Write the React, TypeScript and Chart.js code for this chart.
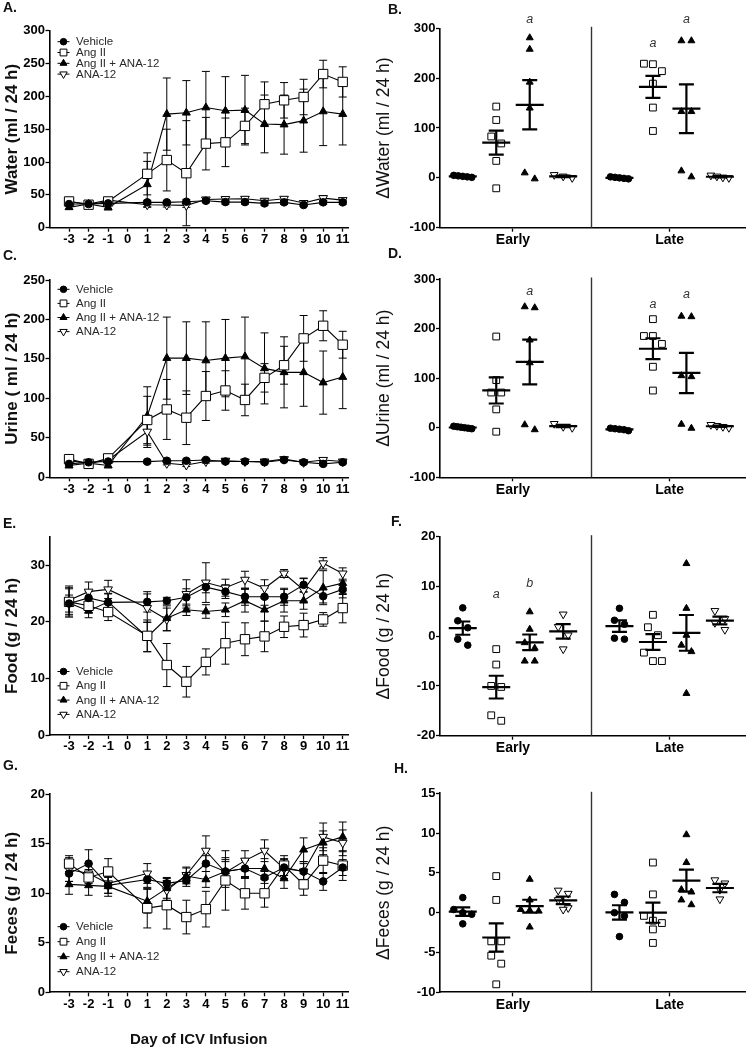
import React, { useEffect, useRef } from 'react';
import { Chart, registerables } from 'chart.js';

Chart.register(...registerables);

// ------------------------------------------------------------------ data
const GROUPS = ['Vehicle', 'Ang II', 'Ang II + ANA-12', 'ANA-12'];
const DAYS = [-3, -2, -1, 1, 2, 3, 4, 5, 6, 7, 8, 9, 10, 11];
const DAY_TICKS = [-3, -2, -1, 0, 1, 2, 3, 4, 5, 6, 7, 8, 9, 10, 11];
const PERIODS = ['Early', 'Late'];

// time courses (mean per day, groups in GROUPS order) and SEM
const WATER = [
  [36, 36, 37, 38.6, 38.6, 39.6, 41, 39, 39, 37, 38.6, 34.5, 38.6, 38.6],
  [40, 35, 40, 82, 103, 83, 128, 130, 155, 188, 194, 199, 234, 222],
  [31, 36, 31, 66, 173, 175, 183, 178, 179, 158, 157, 163, 177, 173],
  [40, 36, 42, 35, 34.5, 34, 43, 43.6, 44, 41, 44, 37.6, 45, 42],
];
const WATER_SEM = [
  [3, 2, 3, 3, 2, 3, 3, 3, 3, 3, 3, 2, 3, 3],
  [4, 3, 5, 32, 47, 80, 40, 37, 27, 34, 27, 27, 21, 23],
  [3, 3, 4, 35, 55, 49, 55, 52, 53, 44, 45, 48, 52, 47],
  [3, 2, 3, 3, 3, 3, 3, 3, 3, 3, 3, 3, 4, 3],
];
const URINE = [
  [17, 19, 20, 19.8, 21, 21, 22, 20, 20, 19, 22, 19, 17, 19],
  [23, 17, 24, 72.6, 86, 75.5, 103, 110, 98, 126, 142, 176, 192, 168],
  [15, 18, 15, 77.7, 151, 151, 148, 151, 153, 138, 133, 133, 120, 127],
  [21, 18, 22, 57.8, 17.7, 15.6, 20, 21, 20, 20, 23, 19, 22, 20],
];
const URINE_SEM = [
  [2, 2, 2, 2, 2, 2, 2, 2, 2, 2, 2, 2, 2, 2],
  [4, 3, 4, 30, 38, 34, 31, 25, 20, 18, 24, 29, 19, 17],
  [3, 3, 3, 37, 52, 46, 49, 49, 50, 45, 45, 43, 40, 40],
  [3, 2, 3, 20, 2, 2, 2, 2, 2, 2, 2, 2, 2, 2],
];
const FOOD = [
  [23.2, 24.2, 23.4, 23.5, 23.7, 24.3, 26.1, 25.3, 24.4, 24.4, 24.4, 26.5, 24.5, 25.7],
  [23.5, 22.8, 21.7, 17.5, 12.35, 9.4, 12.9, 16.2, 16.9, 17.4, 19.1, 19.4, 20.4, 22.4],
  [23.3, 21.9, 23.5, 17.3, 20.6, 22.1, 21.8, 22.1, 23.7, 22.1, 23.7, 23.7, 26, 26.8],
  [23.8, 25.3, 25.7, 22.4, 20.4, 24.9, 26.9, 26, 27.4, 25.9, 28.5, 25.6, 30.3, 28.5],
];
const FOOD_SEM = [
  [1.5, 1.2, 1.5, 1.8, 0.6, 1.5, 1.0, 1.2, 1.5, 1.5, 1.5, 1.2, 1.2, 1.5],
  [2.5, 1.2, 1.5, 2.8, 3.8, 2.7, 2.3, 3.7, 2.9, 2.7, 1.9, 2.1, 1.2, 2.6],
  [2.5, 1.2, 1.5, 2.6, 2.2, 1.0, 1.2, 1.2, 2.0, 2.0, 2.0, 1.5, 3.0, 2.0],
  [2.5, 1.7, 1.6, 2.5, 2.0, 2.5, 3.5, 1.5, 1.5, 1.5, 0.7, 2.0, 1.0, 1.0],
];
const FECES = [
  [12.0, 13.0, 10.8, 11.4, 11.0, 11.3, 13.0, 12.2, 12.5, 11.6, 12.6, 12.2, 11.2, 12.6],
  [13.0, 11.6, 12.2, 8.5, 8.8, 7.6, 8.4, 11.3, 10.0, 10.0, 12.8, 10.9, 13.3, 12.8],
  [10.9, 10.8, 10.7, 9.2, 10.5, 11.75, 11.4, 12.2, 12.5, 12.5, 11.5, 14.4, 15.1, 15.7],
  [12.4, 12.0, 11.0, 12.0, 10.3, 11.85, 14.3, 12.1, 13.3, 14.3, 12.5, 12.2, 15.7, 15.1],
];
const FECES_SEM = [
  [0.8, 1.4, 0.8, 0.8, 0.6, 0.6, 0.8, 1.0, 0.8, 0.6, 0.8, 0.8, 0.9, 0.8],
  [0.8, 0.8, 1.3, 2.0, 2.4, 1.7, 1.8, 3.0, 1.6, 1.4, 1.0, 1.1, 1.3, 1.5],
  [1.0, 1.0, 1.0, 1.2, 1.0, 0.8, 0.8, 1.2, 1.0, 1.0, 1.0, 1.2, 1.2, 1.5],
  [1.2, 1.0, 1.0, 1.0, 1.0, 0.8, 1.5, 1.5, 1.0, 1.1, 1.0, 1.0, 1.4, 1.3],
];

// individual change values (per animal), groups in GROUPS order
const DWATER_EARLY = [[5, 3, 2, 4, 1], [143, 116, 83, 69, 34, -21], [281, 258, 192, 140, -2, 10], [0, 6, 3]];
const DWATER_LATE = [[-2, 0, 1, -1, 2], [228, 229, 214, 189, 141, 94], [275, 275, 133, 133, 2, 14], [1, 5, 3, 0]];
const DURINE_EARLY = [[2, -1, 0, 1, -2, 3], [184, 96, 71, 71, 37, -8], [244, 242, 177, 131, -4, 6], [0, 8, 2]];
const DURINE_LATE = [[-3, -6, -1, -4, -2], [219, 185, 185, 169, 123, 75], [224, 225, 105, 103, -1, 7], [0, 4, 6, 2]];
const DFOOD_EARLY = [[5.7, 3.1, 1.7, -0.6, -1.8], [-2.6, -5.7, -10.2, -10, -17, -15.9], [4.9, 1.4, -1.3, -2.4, -5, -5], [4.4, 1.9, 0.2, -2.6]];
const DFOOD_LATE = [[5.6, 3.2, 2.4, -0.4, -0.6], [4.3, 1.8, 0.2, -3.3, -5, -5], [14.6, 5.6, 0.2, -1.8, -3.1, -11.5], [5.1, 3.5, 2.7, 1.3]];
const DFECES_EARLY = [[1.9, 0.4, 0, -0.2, -1.4], [4.6, 1.6, -3.6, -3.6, -5.4, -6.4, -9], [4.2, 1.6, 0.4, 0.3, 0.2, -1.8], [2.8, 2.4, 1.6, 0.6, 0.4]];
const DFECES_LATE = [[2.3, 1.3, 0, -0.4, -3], [6.3, 2.3, -0.4, -1.0, -1.3, -2.1, -3.8], [9.8, 6.3, 2.9, 2.6, 1.6, 1.0], [4.1, 3.7, 2.9, 1.7]];

// significance letters: [text, period index, group index, value level]
const DWATER_MARKS: [string, number, number, number][] = [['a', 0, 2, 317], ['a', 1, 1, 270], ['a', 1, 2, 317]];
const DURINE_MARKS: [string, number, number, number][] = [['a', 0, 2, 274], ['a', 1, 1, 248], ['a', 1, 2, 269]];
const DFOOD_MARKS: [string, number, number, number][] = [['a', 0, 1, 8.3], ['b', 0, 2, 10.6]];
const DFECES_MARKS: [string, number, number, number][] = [];

// tick labels
const WATER_TICKS = [0, 50, 100, 150, 200, 250, 300];
const URINE_TICKS = [0, 50, 100, 150, 200, 250];
const FOOD_TICKS = [0, 10, 20, 30];
const FECES_TICKS = [0, 5, 10, 15, 20];
const DWATER_TICKS = [-100, 0, 100, 200, 300];
const DURINE_TICKS = [-100, 0, 100, 200, 300];
const DFOOD_TICKS = [-20, -10, 0, 10, 20];
const DFECES_TICKS = [-10, -5, 0, 5, 10, 15];

// ------------------------------------------------------------------ styles / layout
const FONT = '"Liberation Sans", Arial, Helvetica, sans-serif';
const MARKERS = [
  { style: 'circle', rot: 0, fill: '#000', rL: 3.8, rR: 3.3, rLeg: 3.3 },
  { style: 'rect', rot: 0, fill: '#fff', rL: 6.6, rR: 4.8, rLeg: 4.8 },
  { style: 'triangle', rot: 0, fill: '#000', rL: 4.6, rR: 4.0, rLeg: 4.0 },
  { style: 'triangle', rot: 180, fill: '#fff', rL: 5.0, rR: 4.5, rLeg: 4.3 },
];
const DAY_MIN = -4;
const DAY_MAX = 11.27;
const SLOT_MIN = -0.68;
const SLOT_MAX = 8.43;
const LATE_OFFSET = 4.68;
const SPREAD_BIN = 8.5;
const SPREAD_STEP = 10;
const SPREAD_SPAN = 18;

type Box = { left: number; top: number; w: number; h: number };
type Area = { l: number; t: number; r: number; b: number };

function drawMarker(ctx: CanvasRenderingContext2D, gi: number, x: number, y: number, r: number) {
  const m = MARKERS[gi];
  ctx.beginPath();
  if (m.style === 'circle') {
    ctx.arc(x, y, r, 0, Math.PI * 2);
  } else if (m.style === 'rect') {
    const s = Math.SQRT1_2 * r;
    ctx.rect(x - s, y - s, 2 * s, 2 * s);
  } else {
    let rad = (m.rot * Math.PI) / 180;
    for (let k = 0; k < 3; k++) {
      const px = x + Math.sin(rad) * r;
      const py = y - Math.cos(rad) * r;
      if (k === 0) ctx.moveTo(px, py);
      else ctx.lineTo(px, py);
      rad += (2 * Math.PI) / 3;
    }
    ctx.closePath();
  }
  ctx.fillStyle = m.fill;
  ctx.fill();
  ctx.strokeStyle = '#000';
  ctx.lineWidth = 1;
  ctx.stroke();
}

function axisLook() {
  return {
    grid: { display: true, drawOnChartArea: false, drawTicks: true, tickLength: 4, tickWidth: 1.3, tickColor: '#000' },
    border: { display: true, color: '#000', width: 1.6 },
  };
}

function spreadOffsets(px: number[]): number[] {
  const idx = px.map((_, i) => i).sort((a, b) => px[b] - px[a]);
  const out = new Array(px.length).fill(0);
  let k = 0;
  while (k < idx.length) {
    const start = px[idx[k]];
    let j = k;
    while (j + 1 < idx.length && start - px[idx[j + 1]] < SPREAD_BIN) j++;
    const n = j - k + 1;
    if (n > 1) {
      const d = Math.min(SPREAD_STEP, SPREAD_SPAN / (n - 1));
      for (let m = 0; m < n; m++) out[idx[k + m]] = (m - (n - 1) / 2) * d;
    }
    k = j + 1;
  }
  return out;
}

function meanSem(v: number[]) {
  const n = v.length;
  const mean = v.reduce((a, b) => a + b, 0) / n;
  const sd = Math.sqrt(v.reduce((a, b) => a + (b - mean) * (b - mean), 0) / (n - 1));
  return { mean, sem: sd / Math.sqrt(n) };
}

// ------------------------------------------------------------------ line panels
type LinePanel = {
  box: Box; ca: Area; yMax: number; yTicks: number[]; title: string;
  series: number[][]; sem: number[][]; legend: { x: number; y: number; gap: number; tx: number };
  xTitle?: string;
};

function lineConfig(p: LinePanel): any {
  const { box, ca } = p;
  const datasets = GROUPS.map((g, gi) => ({
    label: g,
    data: DAYS.map((d, i) => ({ x: d, y: p.series[gi][i] })),
    errs: p.sem[gi],
    showLine: true,
    borderColor: '#000',
    borderWidth: 1.1,
    backgroundColor: MARKERS[gi].fill,
    pointStyle: MARKERS[gi].style,
    pointRotation: MARKERS[gi].rot,
    pointRadius: MARKERS[gi].rL,
    pointBackgroundColor: MARKERS[gi].fill,
    pointBorderColor: '#000',
    pointBorderWidth: 1,
    clip: false,
  }));
  const errPlugin = {
    id: 'errbars',
    beforeDatasetsDraw(chart: any) {
      const ctx = chart.ctx;
      const ys = chart.scales.y;
      ctx.save();
      ctx.strokeStyle = '#000';
      ctx.lineWidth = 1;
      chart.data.datasets.forEach((ds: any, di: number) => {
        const meta = chart.getDatasetMeta(di);
        meta.data.forEach((pt: any, i: number) => {
          const v = ds.data[i].y;
          const e = ds.errs[i];
          const x = pt.x;
          const y1 = ys.getPixelForValue(v + e);
          const y2 = ys.getPixelForValue(v - e);
          ctx.beginPath();
          ctx.moveTo(x, y1); ctx.lineTo(x, y2);
          ctx.moveTo(x - 4, y1); ctx.lineTo(x + 4, y1);
          ctx.moveTo(x - 4, y2); ctx.lineTo(x + 4, y2);
          ctx.stroke();
        });
      });
      ctx.restore();
    },
  };
  const legPlugin = {
    id: 'insideLegend',
    afterDraw(chart: any) {
      const ctx = chart.ctx;
      ctx.save();
      GROUPS.forEach((g, gi) => {
        const x = p.legend.x - box.left;
        const y = p.legend.y - box.top + gi * p.legend.gap;
        ctx.strokeStyle = '#000';
        ctx.lineWidth = 1;
        ctx.beginPath();
        ctx.moveTo(x - 6, y); ctx.lineTo(x + 6, y);
        ctx.stroke();
        drawMarker(ctx, gi, x, y, MARKERS[gi].rLeg);
        ctx.fillStyle = '#2a2a2a';
        ctx.font = `11.5px ${FONT}`;
        ctx.textAlign = 'left';
        ctx.textBaseline = 'middle';
        ctx.fillText(g, p.legend.tx - box.left, y + 0.5);
      });
      ctx.restore();
    },
  };
  return {
    type: 'scatter',
    data: { datasets },
    plugins: [errPlugin, legPlugin],
    options: {
      animation: false,
      responsive: false,
      devicePixelRatio: 1,
      events: [],
      layout: { autoPadding: false, padding: { left: 0, top: ca.t - box.top, right: box.left + box.w - ca.r, bottom: 0 } },
      plugins: { legend: { display: false }, tooltip: { enabled: false }, title: { display: false } },
      scales: {
        x: {
          type: 'linear', min: DAY_MIN, max: DAY_MAX,
          ...axisLook(),
          afterBuildTicks: (s: any) => { s.ticks = DAY_TICKS.map((v) => ({ value: v })); },
          afterFit: (s: any) => { s.height = box.top + box.h - ca.b; },
          ticks: {
            autoSkip: false, maxRotation: 0, minRotation: 0, padding: 0, color: '#000',
            font: { family: FONT, size: 13, weight: 'bold' },
            callback: (v: any) => String(v),
          },
          title: p.xTitle
            ? { display: true, text: p.xTitle, color: '#111', font: { family: FONT, size: 15, weight: 'bold' }, padding: { top: 0, bottom: 1 } }
            : { display: false },
        },
        y: {
          type: 'linear', min: 0, max: p.yMax,
          ...axisLook(),
          afterBuildTicks: (s: any) => { s.ticks = p.yTicks.map((v) => ({ value: v })); },
          afterFit: (s: any) => { s.width = ca.l - box.left; },
          ticks: { padding: 0.5, color: '#000', font: { family: FONT, size: 13, weight: 'bold' }, callback: (v: any) => String(v) },
          title: { display: true, text: p.title, color: '#111', font: { family: FONT, size: 17, weight: 'bold' }, padding: { top: 2, bottom: 0 } },
        },
      },
    },
  };
}

// ------------------------------------------------------------------ dot panels
type DotPanel = {
  box: Box; ca: Area; yMin: number; yMax: number; yTicks: number[]; title: string;
  early: number[][]; late: number[][]; marks: [string, number, number, number][];
};

const slotOf = (pi: number, gi: number) => (pi === 0 ? gi : LATE_OFFSET + gi);

function dotConfig(p: DotPanel): any {
  const { box, ca } = p;
  const ppuY = (ca.b - ca.t) / (p.yMax - p.yMin);
  const unitsPerPxX = (SLOT_MAX - SLOT_MIN) / (ca.r - ca.l);
  const periodsData = [p.early, p.late];
  const datasets = GROUPS.map((g, gi) => {
    const pts: { x: number; y: number }[] = [];
    periodsData.forEach((pd, pi) => {
      const vals = pd[gi];
      const offs = spreadOffsets(vals.map((v) => v * ppuY));
      vals.forEach((v, k) => pts.push({ x: slotOf(pi, gi) + offs[k] * unitsPerPxX, y: v }));
    });
    return {
      label: g,
      data: pts,
      showLine: false,
      pointStyle: MARKERS[gi].style,
      pointRotation: MARKERS[gi].rot,
      pointRadius: MARKERS[gi].rR,
      pointBackgroundColor: MARKERS[gi].fill,
      backgroundColor: MARKERS[gi].fill,
      pointBorderColor: '#000',
      borderColor: '#000',
      pointBorderWidth: 1,
      clip: false,
    };
  });
  const centers = [1.5, LATE_OFFSET + 1.5];
  const divider = (3 + LATE_OFFSET) / 2;
  const statPlugin = {
    id: 'meanSem',
    beforeDatasetsDraw(chart: any) {
      const ctx = chart.ctx;
      const xs = chart.scales.x;
      const area = chart.chartArea;
      ctx.save();
      ctx.strokeStyle = '#333';
      ctx.lineWidth = 1.4;
      const dx = Math.round(xs.getPixelForValue(divider)) + 0.5;
      ctx.beginPath();
      ctx.moveTo(dx, area.top - 1.5);
      ctx.lineTo(dx, area.bottom);
      ctx.stroke();
      ctx.restore();
    },
    afterDatasetsDraw(chart: any) {
      const ctx = chart.ctx;
      const xs = chart.scales.x;
      const ys = chart.scales.y;
      ctx.save();
      ctx.strokeStyle = '#000';
      ctx.lineWidth = 2.2;
      periodsData.forEach((pd, pi) => {
        pd.forEach((vals, gi) => {
          const { mean, sem } = meanSem(vals);
          const x = xs.getPixelForValue(slotOf(pi, gi));
          const ym = ys.getPixelForValue(mean);
          const y1 = ys.getPixelForValue(mean + sem);
          const y2 = ys.getPixelForValue(mean - sem);
          ctx.beginPath();
          ctx.moveTo(x - 14, ym); ctx.lineTo(x + 14, ym);
          ctx.moveTo(x, y1); ctx.lineTo(x, y2);
          ctx.moveTo(x - 7.5, y1); ctx.lineTo(x + 7.5, y1);
          ctx.moveTo(x - 7.5, y2); ctx.lineTo(x + 7.5, y2);
          ctx.stroke();
        });
      });
      ctx.fillStyle = '#333';
      ctx.font = `italic 12.5px ${FONT}`;
      ctx.textAlign = 'center';
      ctx.textBaseline = 'middle';
      p.marks.forEach(([t, pi, gi, yv]) => {
        ctx.fillText(t, xs.getPixelForValue(slotOf(pi, gi)), ys.getPixelForValue(yv));
      });
      ctx.restore();
    },
  };
  return {
    type: 'scatter',
    data: { datasets },
    plugins: [statPlugin],
    options: {
      animation: false,
      responsive: false,
      devicePixelRatio: 1,
      events: [],
      layout: { autoPadding: false, padding: { left: 0, top: ca.t - box.top, right: box.left + box.w - ca.r, bottom: 0 } },
      plugins: { legend: { display: false }, tooltip: { enabled: false }, title: { display: false } },
      scales: {
        x: {
          type: 'linear', min: SLOT_MIN, max: SLOT_MAX,
          ...axisLook(),
          afterBuildTicks: (s: any) => { s.ticks = centers.map((v) => ({ value: v })); },
          afterFit: (s: any) => { s.height = box.top + box.h - ca.b; },
          ticks: {
            autoSkip: false, maxRotation: 0, minRotation: 0, padding: 0, color: '#000',
            font: { family: FONT, size: 14, weight: 'bold' },
            callback: (_v: any, i: number) => PERIODS[i],
          },
        },
        y: {
          type: 'linear', min: p.yMin, max: p.yMax,
          ...axisLook(),
          afterBuildTicks: (s: any) => { s.ticks = p.yTicks.map((v) => ({ value: v })); },
          afterFit: (s: any) => { s.width = ca.l - box.left; },
          ticks: { padding: 0.5, color: '#000', font: { family: FONT, size: 13, weight: 'bold' }, callback: (v: any) => String(v) },
          title: { display: true, text: p.title, color: '#111', font: { family: FONT, size: 17.5, weight: 'normal' }, padding: { top: 4, bottom: 0 } },
        },
      },
    },
  };
}

// ------------------------------------------------------------------ panels
const LINE_PANELS: LinePanel[] = [
  {
    box: { left: 0, top: 0, w: 362, h: 255 }, ca: { l: 49.5, t: 30.7, r: 348, b: 227.7 },
    yMax: 300, yTicks: WATER_TICKS, title: 'Water (ml / 24 h)', series: WATER, sem: WATER_SEM,
    legend: { x: 63.5, y: 41.7, gap: 10.8, tx: 76 },
  },
  {
    box: { left: 0, top: 262, w: 362, h: 240 }, ca: { l: 49.5, t: 280, r: 348, b: 477.3 },
    yMax: 250, yTicks: URINE_TICKS, title: 'Urine ( ml / 24 h)', series: URINE, sem: URINE_SEM,
    legend: { x: 63.5, y: 289.3, gap: 14.1, tx: 76 },
  },
  {
    box: { left: 0, top: 520, w: 362, h: 240 }, ca: { l: 49.5, t: 536.7, r: 348, b: 735 },
    yMax: 35, yTicks: FOOD_TICKS, title: 'Food (g / 24 h)', series: FOOD, sem: FOOD_SEM,
    legend: { x: 63.5, y: 671.5, gap: 14.3, tx: 76 },
  },
  {
    box: { left: 0, top: 775, w: 362, h: 275 }, ca: { l: 49.5, t: 794.3, r: 348, b: 992.3 },
    yMax: 20, yTicks: FECES_TICKS, title: 'Feces (g / 24 h)', series: FECES, sem: FECES_SEM,
    legend: { x: 63.5, y: 926.7, gap: 15, tx: 76 }, xTitle: 'Day of ICV Infusion',
  },
];

const DOT_PANELS: DotPanel[] = [
  {
    box: { left: 370, top: 0, w: 376, h: 255 }, ca: { l: 440, t: 28.3, r: 745, b: 227.7 },
    yMin: -100, yMax: 300, yTicks: DWATER_TICKS, title: '\u0394Water (ml / 24 h)',
    early: DWATER_EARLY, late: DWATER_LATE, marks: DWATER_MARKS,
  },
  {
    box: { left: 370, top: 262, w: 376, h: 240 }, ca: { l: 440, t: 279, r: 745, b: 477.3 },
    yMin: -100, yMax: 300, yTicks: DURINE_TICKS, title: '\u0394Urine (ml / 24 h)',
    early: DURINE_EARLY, late: DURINE_LATE, marks: DURINE_MARKS,
  },
  {
    box: { left: 370, top: 520, w: 376, h: 240 }, ca: { l: 440, t: 536.7, r: 745, b: 735.7 },
    yMin: -20, yMax: 20, yTicks: DFOOD_TICKS, title: '\u0394Food (g / 24 h)',
    early: DFOOD_EARLY, late: DFOOD_LATE, marks: DFOOD_MARKS,
  },
  {
    box: { left: 370, top: 775, w: 376, h: 245 }, ca: { l: 440, t: 793.3, r: 745, b: 992.3 },
    yMin: -10, yMax: 15, yTicks: DFECES_TICKS, title: '\u0394Feces (g / 24 h)',
    early: DFECES_EARLY, late: DFECES_LATE, marks: DFECES_MARKS,
  },
];

const LETTERS = [
  { t: 'A.', x: 3, y: 0 }, { t: 'B.', x: 388, y: 2 },
  { t: 'C.', x: 3, y: 248 }, { t: 'D.', x: 388, y: 246 },
  { t: 'E.', x: 3, y: 516 }, { t: 'F.', x: 391, y: 514 },
  { t: 'G.', x: 3, y: 758 }, { t: 'H.', x: 394, y: 761 },
];

function ChartCanvas({ box, make }: { box: Box; make: () => any }) {
  const ref = useRef<HTMLCanvasElement | null>(null);
  useEffect(() => {
    if (!ref.current) return;
    const chart = new Chart(ref.current, make());
    return () => chart.destroy();
  }, []);
  return (
    <canvas
      ref={ref}
      width={box.w}
      height={box.h}
      style={{ position: 'absolute', left: box.left, top: box.top, width: box.w, height: box.h }}
    />
  );
}

export default function App() {
  useEffect(() => {
    document.body.style.margin = '0';
    document.body.style.background = '#fff';
  }, []);
  return (
    <div style={{ position: 'absolute', left: 0, top: 0, width: 746, height: 1050, background: '#fff', overflow: 'hidden', fontFamily: FONT }}>
      {LINE_PANELS.map((p, i) => (
        <ChartCanvas key={'l' + i} box={p.box} make={() => lineConfig(p)} />
      ))}
      {DOT_PANELS.map((p, i) => (
        <ChartCanvas key={'d' + i} box={p.box} make={() => dotConfig(p)} />
      ))}
      {LETTERS.map((l) => (
        <div
          key={l.t}
          style={{ position: 'absolute', left: l.x, top: l.y, fontSize: 14, lineHeight: '14px', fontWeight: 'bold', color: '#111', zIndex: 2 }}
        >
          {l.t}
        </div>
      ))}
    </div>
  );
}
